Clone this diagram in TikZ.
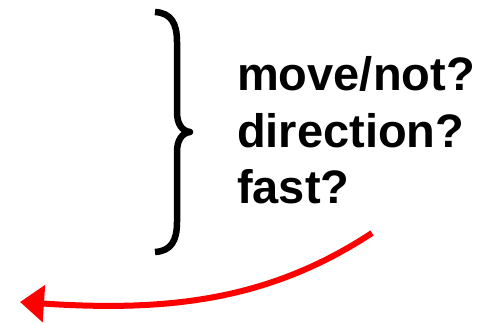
\documentclass[tikz,border=0pt]{standalone}
\usepackage{fontspec}
\setmainfont{Liberation Sans}
\usetikzlibrary{arrows.meta}
\begin{document}
\begin{tikzpicture}[x=1pt,y=-1pt,
  lbl/.style={anchor=base west,inner sep=0pt,font=\fontsize{47}{47}\selectfont\bfseries},
  bracestroke/.style={line width=6.5pt,line cap=butt,line join=round},
  redarrow/.style={red,line width=6pt,-{Triangle[length=24pt,width=36pt]}}]
\useasboundingbox (0,0) rectangle (494,322);
% brace
\draw[bracestroke] (155,12) .. controls (171,13) and (177,23) .. (177,42)
  -- (177,112) .. controls (177,124) and (182,131) .. (190,132)
  .. controls (182,133) and (177,140) .. (177,152)
  -- (177,222) .. controls (177,241) and (171,251) .. (155,252);
% labels
\node[lbl] (l1) at (237,90) {move/not?};
\node[lbl] (l2) at (237,147) {direction?};
\node[lbl] (l3) at (237,203) {fast?};
% arrow
\coordinate (a0) at (372,233);
\coordinate (a1) at (20,302);
\draw[redarrow] (a0) .. controls (270,300) and (170,312) .. (a1);
\end{tikzpicture}
\end{document}
